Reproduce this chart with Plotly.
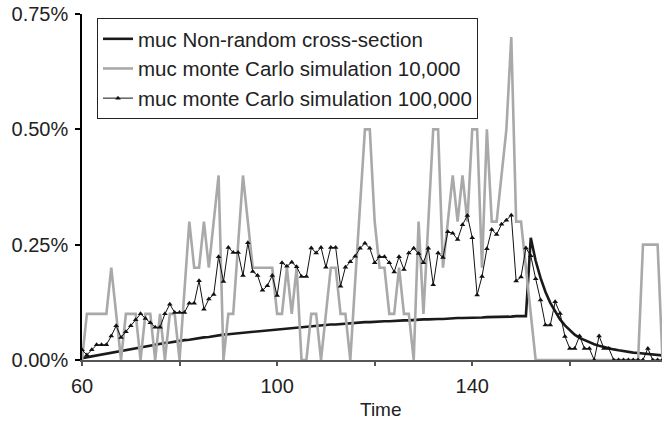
import plotly.graph_objects as go

# x values: time steps 60..179
time = list(range(60, 180))

# muc Non-random cross-section (percent)
nonrandom_pct = [
    0.004, 0.006, 0.008, 0.010, 0.012, 0.014, 0.016, 0.018, 0.020, 0.022,  # 60-69
    0.024, 0.026, 0.028, 0.030, 0.031, 0.033, 0.035, 0.037, 0.038, 0.040,  # 70-79
    0.041, 0.043, 0.044, 0.046, 0.047, 0.049, 0.050, 0.052, 0.053, 0.055,  # 80-89
    0.056, 0.057, 0.058, 0.059, 0.061, 0.062, 0.063, 0.064, 0.065, 0.066,  # 90-99
    0.067, 0.068, 0.069, 0.070, 0.071, 0.072, 0.073, 0.073, 0.074, 0.075,  # 100-109
    0.076, 0.077, 0.077, 0.078, 0.079, 0.080, 0.080, 0.081, 0.082, 0.082,  # 110-119
    0.083, 0.083, 0.084, 0.084, 0.085, 0.085, 0.086, 0.086, 0.087, 0.087,  # 120-129
    0.088, 0.088, 0.089, 0.089, 0.089, 0.090, 0.090, 0.091, 0.091, 0.091,  # 130-139
    0.092, 0.092, 0.092, 0.093, 0.093, 0.093, 0.094, 0.094, 0.094, 0.095,  # 140-149
    0.095, 0.095, 0.265, 0.215, 0.178, 0.148, 0.124, 0.105, 0.088, 0.075,  # 150-159
    0.064, 0.055, 0.048, 0.043, 0.038, 0.034, 0.031, 0.028, 0.025, 0.023,  # 160-169
    0.021, 0.019, 0.017, 0.016, 0.015, 0.014, 0.013, 0.012, 0.011, 0.010,  # 170-179
]

# muc monte Carlo simulation 10,000 (percent)
mc10k_pct = [
    0.00, 0.10, 0.10, 0.10, 0.10, 0.10, 0.20, 0.10, 0.00, 0.10,  # 60-69
    0.10, 0.10, 0.00, 0.10, 0.10, 0.00, 0.10, 0.00, 0.10, 0.10,  # 70-79
    0.00, 0.15, 0.30, 0.20, 0.20, 0.30, 0.20, 0.30, 0.40, 0.00,  # 80-89
    0.10, 0.10, 0.25, 0.40, 0.30, 0.20, 0.20, 0.20, 0.20, 0.20,  # 90-99
    0.10, 0.10, 0.20, 0.10, 0.20, 0.00, 0.00, 0.10, 0.10, 0.00,  # 100-109
    0.10, 0.20, 0.20, 0.10, 0.10, 0.00, 0.17, 0.33, 0.50, 0.50,  # 110-119
    0.30, 0.20, 0.20, 0.10, 0.10, 0.20, 0.10, 0.10, 0.00, 0.30,  # 120-129
    0.10, 0.30, 0.50, 0.50, 0.20, 0.30, 0.40, 0.30, 0.40, 0.30,  # 130-139
    0.50, 0.50, 0.20, 0.50, 0.30, 0.30, 0.40, 0.50, 0.70, 0.30,  # 140-149
    0.30, 0.20, 0.10, 0.00, 0.00, 0.00, 0.00, 0.00, 0.00, 0.00,  # 150-159
    0.00, 0.00, 0.00, 0.00, 0.00, 0.00, 0.00, 0.00, 0.00, 0.00,  # 160-169
    0.00, 0.00, 0.00, 0.00, 0.00, 0.25, 0.25, 0.25, 0.25, 0.00,  # 170-179
]

# muc monte Carlo simulation 100,000 (percent)
mc100k_pct = [
    0.022, 0.011, 0.022, 0.033, 0.033, 0.033, 0.052, 0.074, 0.049, 0.061,  # 60-69
    0.074, 0.087, 0.100, 0.090, 0.081, 0.071, 0.071, 0.100, 0.121, 0.103,  # 70-79
    0.103, 0.103, 0.123, 0.123, 0.172, 0.110, 0.132, 0.142, 0.224, 0.170,  # 80-89
    0.244, 0.233, 0.233, 0.183, 0.254, 0.192, 0.183, 0.151, 0.161, 0.183,  # 90-99
    0.140, 0.211, 0.203, 0.212, 0.202, 0.181, 0.181, 0.243, 0.232, 0.244,  # 100-109
    0.201, 0.244, 0.244, 0.160, 0.201, 0.213, 0.225, 0.242, 0.253, 0.242,  # 110-119
    0.211, 0.224, 0.224, 0.211, 0.191, 0.224, 0.196, 0.232, 0.242, 0.231,  # 120-129
    0.211, 0.242, 0.163, 0.232, 0.222, 0.278, 0.275, 0.261, 0.293, 0.313,  # 130-139
    0.265, 0.141, 0.181, 0.241, 0.283, 0.272, 0.294, 0.303, 0.314, 0.171,  # 140-149
    0.180, 0.243, 0.226, 0.176, 0.130, 0.076, 0.076, 0.126, 0.101, 0.051,  # 150-159
    0.025, 0.025, 0.052, 0.025, 0.025, 0.000, 0.052, 0.025, 0.025, 0.000,  # 160-169
    0.000, 0.000, 0.000, 0.000, 0.000, 0.000, 0.025, 0.000, 0.000, 0.000,  # 170-179
]

x_tickvals = [60, 80, 100, 120, 140, 160, 180]
x_ticktext = ["60", "", "100", "", "140", "", "180"]
y_tickvals = [0, 0.0025, 0.005, 0.0075]
y_ticktext = ["0.00%", "0.25%", "0.50%", "0.75%"]

names = [
    "muc Non-random cross-section",
    "muc monte Carlo simulation 10,000",
    "muc monte Carlo simulation 100,000",
]

FONT = "Liberation Sans, Arial, sans-serif"


def frac(lst):
    return [v / 100.0 for v in lst]


fig = go.Figure()
fig.add_trace(go.Scatter(
    x=time, y=frac(nonrandom_pct), name=names[0], mode="lines",
    line=dict(color="#1a1a1a", width=2.6),
))
fig.add_trace(go.Scatter(
    x=time, y=frac(mc10k_pct), name=names[1], mode="lines",
    line=dict(color="#a9a9a9", width=2.6),
))
fig.add_trace(go.Scatter(
    x=time, y=frac(mc100k_pct), name=names[2], mode="lines+markers",
    line=dict(color="#111111", width=1),
    marker=dict(symbol="triangle-up", size=5, color="#111111"),
))

fig.update_layout(
    width=662, height=426,
    margin=dict(l=82, r=0, t=14, b=66),
    paper_bgcolor="white", plot_bgcolor="white",
    font=dict(family=FONT, size=20, color="#222222"),
    showlegend=True,
    legend=dict(
        x=(97 - 82) / 580, y=1 - (18 - 14) / 346,
        xanchor="left", yanchor="top",
        bgcolor="white", bordercolor="#222222", borderwidth=1,
        font=dict(family=FONT, size=20.5, color="#222222"),
        tracegroupgap=0,
    ),
    xaxis=dict(
        range=[60, 178.9], showgrid=False, zeroline=False,
        showline=True, linecolor="#555555", linewidth=2,
        tickvals=x_tickvals, ticktext=x_ticktext,
        ticks="outside", ticklen=4, tickcolor="#555555", tickwidth=1.5,
        ticklabelstandoff=3,
        tickfont=dict(family=FONT, size=20, color="#222222"),
    ),
    yaxis=dict(
        range=[0, 0.0075], showgrid=False, zeroline=False,
        showline=True, linecolor="#000000", linewidth=1.5,
        tickvals=y_tickvals, ticktext=y_ticktext,
        ticks="outside", ticklen=5, tickcolor="#000000", tickwidth=1.5,
        ticklabelstandoff=3,
        tickfont=dict(family=FONT, size=20, color="#222222"),
    ),
    annotations=[dict(
        text="Time", xref="paper", yref="paper",
        x=(381.5 - 82) / 580, y=-(409 - 360) / 346,
        xanchor="center", yanchor="middle", showarrow=False,
        font=dict(family=FONT, size=19, color="#222222"),
    )],
)

fig.write_html(
    "out.html",
    config={"displayModeBar": False},
    post_script="document.body.style.margin='0';document.body.style.overflow='hidden';",
)
